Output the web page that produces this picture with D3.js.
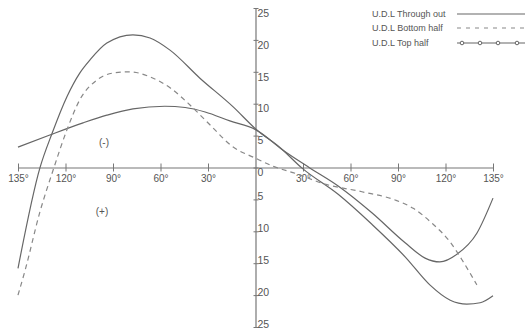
<!DOCTYPE html>
<html>
<head>
<meta charset="utf-8">
<script src="https://cdn.jsdelivr.net/npm/d3@7/dist/d3.min.js"></script>
<style>
  html, body { margin: 0; padding: 0; background: #fff; }
  svg { display: block; font-family: "Liberation Sans", Arial, sans-serif; }
</style>
</head>
<body>
<svg id="chart" width="525" height="333"></svg>
<script>
// ---- data (x in tick-position units: -5 = 135° left, 0 = origin, 5 = 135° right) ----
const xTickPositions = [-5, -4, -3, -2, -1, 1, 2, 3, 4, 5];
const xTickLabels = ["135°", "120°", "90°", "60°", "30°", "30°", "60°", "90°", "120°", "135°"];
const yTickValues = [-25, -20, -15, -10, -5, 0, 5, 10, 15, 20, 25];

const seriesNames = ["U.D.L Through out", "U.D.L Bottom half", "U.D.L Top half"];

const throughOutX = [-5.0, -4.54, -4.28, -3.97, -3.70, -3.48, -3.13, -2.58, -2.22, -1.80, -1.17, -0.47, 0.01, 0.52, 0.98, 1.74, 2.45, 3.15, 3.67, 4.10, 4.45, 4.73, 5.0];
const throughOutY = [-15.8, -0.1, 5.4, 11.1, 14.8, 16.9, 19.5, 20.8, 20.3, 18.4, 14.0, 9.5, 6.0, 3.1, -0.1, -4.2, -8.9, -14.0, -18.4, -20.8, -21.4, -21.2, -20.1];

const bottomHalfX = [-5.0, -4.85, -4.54, -4.26, -3.97, -3.70, -3.34, -3.0, -2.64, -2.22, -1.80, -1.38, -0.96, -0.47, -0.01, 0.37, 0.87, 1.46, 2.24, 2.94, 3.32, 3.74, 4.10, 4.35, 4.66];
const bottomHalfY = [-20.0, -16.1, -7.0, -0.4, 5.9, 10.6, 13.7, 14.8, 15.0, 14.2, 12.5, 9.8, 6.7, 3.2, 1.5, 0.2, -1.0, -2.6, -3.8, -5.1, -6.4, -8.9, -11.7, -14.5, -18.4];

const topHalfX = [-5.0, -4.33, -3.63, -3.13, -2.58, -1.91, -1.48, -1.06, -0.54, 0.01, 0.58, 1.15, 1.74, 2.45, 3.15, 3.57, 3.88, 4.24, 4.66, 5.0];
const topHalfY = [3.2, 5.1, 7.0, 8.2, 9.2, 9.6, 9.4, 8.7, 7.3, 5.9, 2.7, -0.1, -2.9, -7.1, -11.8, -14.2, -14.8, -13.6, -10.3, -4.8];

// ---- drawing ----
const svg = d3.select("#chart");
const x = d3.scaleLinear().domain([-5, 5]).range([18, 493]);
const y = d3.scaleLinear().domain([-25, 25]).range([327, 8]);
const axisColor = "#777";
const textColor = "#555";

// x axis
const xAxis = d3.axisBottom(x)
  .tickValues(xTickPositions)
  .tickFormat((d, i) => xTickLabels[i])
  .tickSize(4)
  .tickSizeOuter(0);
const gx = svg.append("g").attr("transform", `translate(0,${y(0)})`).call(xAxis);
gx.select(".domain").attr("stroke", axisColor).attr("stroke-width", 1.2);
gx.selectAll(".tick line").attr("stroke", axisColor).attr("y1", -4).attr("y2", 4);
gx.selectAll(".tick text").attr("fill", textColor).attr("font-size", 10).attr("y", 7);

// y axis
const yAxis = d3.axisRight(y)
  .tickValues(yTickValues)
  .tickFormat(d => Math.abs(d))
  .tickSize(3)
  .tickSizeOuter(0);
const gy = svg.append("g").attr("transform", `translate(${x(0)},0)`).call(yAxis);
gy.select(".domain").attr("stroke", axisColor).attr("stroke-width", 1.2);
gy.selectAll(".tick line").attr("stroke", axisColor).attr("x1", -2).attr("x2", 3);
gy.selectAll(".tick text")
  .attr("fill", textColor).attr("font-size", 10.5).attr("x", 2)
  .attr("dy", d => d >= 0 ? "0.78em" : "0em");

// curves
const line = d3.line().x(d => x(d[0])).y(d => y(d[1])).curve(d3.curveMonotoneX);
const zip = (xs, ys) => xs.map((v, i) => [v, ys[i]]);

svg.append("path").datum(zip(throughOutX, throughOutY))
  .attr("d", line).attr("fill", "none").attr("stroke", "#666").attr("stroke-width", 1.2);
svg.append("path").datum(zip(topHalfX, topHalfY))
  .attr("d", line).attr("fill", "none").attr("stroke", "#666").attr("stroke-width", 1.2);
svg.append("path").datum(zip(bottomHalfX, bottomHalfY))
  .attr("d", line).attr("fill", "none").attr("stroke", "#888").attr("stroke-width", 1.2)
  .attr("stroke-dasharray", "5,4");

// sign annotations
svg.append("text").attr("x", 104).attr("y", 146).attr("text-anchor", "middle")
  .attr("font-size", 10).attr("fill", textColor).text("(-)");
svg.append("text").attr("x", 102).attr("y", 215).attr("text-anchor", "middle")
  .attr("font-size", 10).attr("fill", textColor).text("(+)");

// legend
const legendY = [14, 28, 43];
const leg = svg.append("g");
seriesNames.forEach((name, i) => {
  leg.append("text").attr("x", 372).attr("y", legendY[i]).attr("dy", "0.35em")
    .attr("font-size", 9).attr("fill", textColor).text(name);
  const l = leg.append("line").attr("x1", 457).attr("x2", 525)
    .attr("y1", legendY[i]).attr("y2", legendY[i])
    .attr("stroke", i === 1 ? "#888" : "#666").attr("stroke-width", 1.2);
  if (i === 1) l.attr("stroke-dasharray", "4,5");
  if (i === 2) {
    [462, 480, 498, 517].forEach(cx => {
      leg.append("circle").attr("cx", cx).attr("cy", legendY[i]).attr("r", 1.8)
        .attr("fill", "#fff").attr("stroke", "#666").attr("stroke-width", 1);
    });
  }
});
</script>
</body>
</html>
